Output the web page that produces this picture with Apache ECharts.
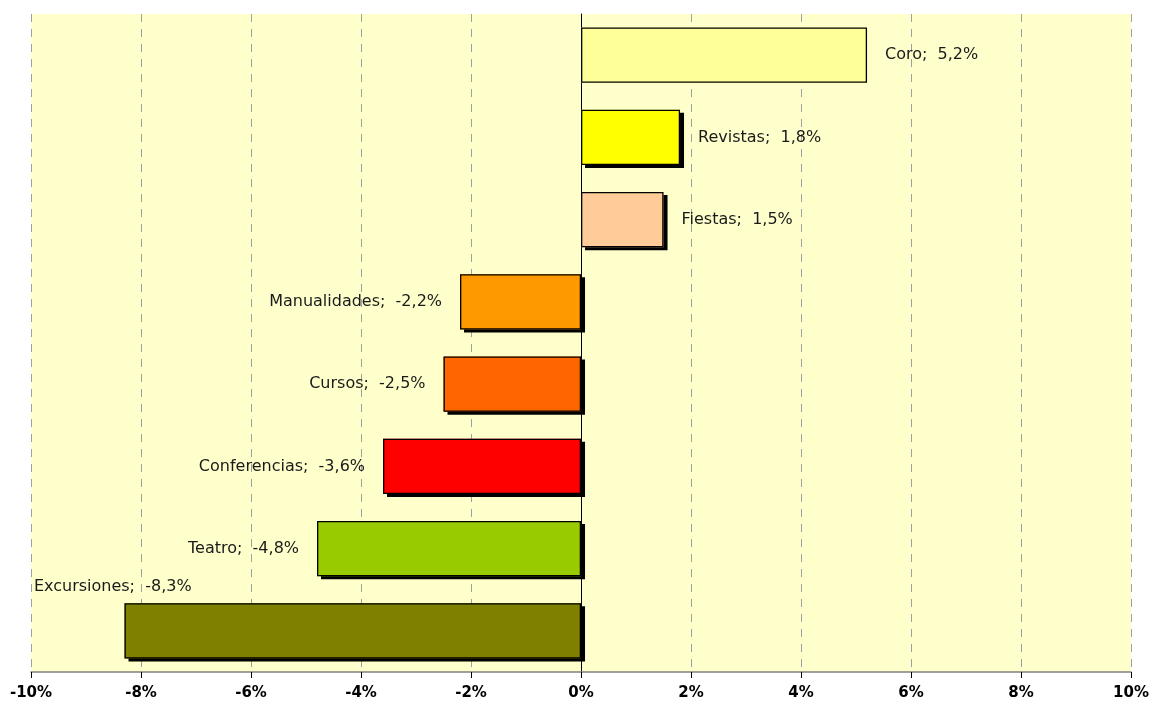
<!DOCTYPE html>
<html>
<head>
<meta charset="utf-8">
<script src="https://cdn.jsdelivr.net/npm/echarts@6/dist/echarts.min.js"></script>
<style>
  html, body { margin: 0; padding: 0; background: #fff; }
  #chart { width: 1152px; height: 704px; }
</style>
</head>
<body>
<div id="chart"></div>
<script>
// datos
const categorias = ['Coro', 'Revistas', 'Fiestas', 'Manualidades', 'Cursos', 'Conferencias', 'Teatro', 'Excursiones'];
const valores = [5.2, 1.8, 1.5, -2.2, -2.5, -3.6, -4.8, -8.3];
const colores = ['#FFFF99', '#FFFF00', '#FFCC99', '#FF9900', '#FF6600', '#FF0000', '#99CC00', '#808000'];
const ticksX = [-10, -8, -6, -4, -2, 0, 2, 4, 6, 8, 10];

const chart = echarts.init(document.getElementById('chart'));

const fmt = function (v) {
    return v.toFixed(1).replace('.', ',') + '%';
};

// relleno + sombra (sin borde)
const relleno = valores.map(function (v, i) {
    return {
        value: v,
        itemStyle: {
            color: colores[i],
            shadowColor: i === 0 ? 'rgba(0,0,0,0)' : '#000',
            shadowOffsetX: 4,
            shadowOffsetY: 3,
            shadowBlur: 0
        }
    };
});

// borde + etiquetas
const bordes = valores.map(function (v, i) {
    const item = {
        value: v,
        label: { position: v >= 0 ? 'right' : 'left' }
    };
    if (categorias[i] === 'Excursiones') {
        item.label = { position: 'top', distance: 8, offset: [-240, 0] };
    }
    return item;
});

chart.setOption({
    animation: false,
    grid: {
        left: 31,
        right: 19,
        top: 14,
        bottom: 32,
        show: true,
        backgroundColor: '#FFFFCC',
        borderWidth: 0
    },
    xAxis: {
        type: 'value',
        min: ticksX[0],
        max: ticksX[ticksX.length - 1],
        interval: 2,
        axisLine: { show: true, onZero: false, lineStyle: { color: '#808080', width: 1.5 } },
        axisTick: { show: true, length: 6, lineStyle: { color: '#000' } },
        axisLabel: {
            color: '#000',
            fontFamily: 'DejaVu Sans',
            fontSize: 15,
            fontWeight: 'bold',
            margin: 14,
            formatter: function (v) { return v + '%'; }
        },
        splitLine: { show: true, lineStyle: { color: '#a0a0a0', type: [8, 7], width: 1 } }
    },
    yAxis: {
        type: 'category',
        data: categorias,
        inverse: true,
        axisLine: { show: true, onZero: true, lineStyle: { color: '#000', width: 1 } },
        axisTick: { show: false },
        axisLabel: { show: false },
        splitLine: { show: false }
    },
    series: [
        {
            name: 'Relleno',
            type: 'bar',
            barWidth: '67%',
            barGap: '-100%',
            data: relleno,
            silent: true
        },
        {
            name: 'Variación',
            type: 'bar',
            barWidth: '67%',
            barGap: '-100%',
            data: bordes,
            itemStyle: {
                color: 'rgba(0,0,0,0)',
                borderColor: '#000',
                borderWidth: 1.3
            },
            label: {
                show: true,
                distance: 18,
                color: '#1a1a1a',
                fontFamily: 'DejaVu Sans',
                fontSize: 16,
                formatter: function (p) {
                    return p.name + ';  ' + fmt(p.value);
                }
            }
        }
    ]
});
</script>
</body>
</html>
